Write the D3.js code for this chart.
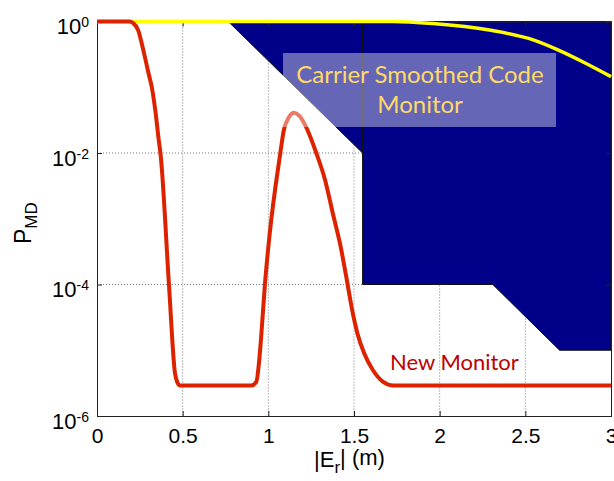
<!DOCTYPE html>
<html>
<head>
<meta charset="utf-8">
<script src="https://cdn.jsdelivr.net/npm/d3@7"></script>
<style>
  body { margin: 0; background: #fff; }
  svg { display: block; }
  .tick text { font-family: "Liberation Sans", Arial, sans-serif; fill: #000; }
</style>
</head>
<body>
<div id="chart"></div>
<script>
// Chart data
var xTicks = [0, 0.5, 1, 1.5, 2, 2.5, 3];
var yTicks = [1, 1e-2, 1e-4, 1e-6];
var yTickExp = ["0", "-2", "-4", "-6"];

// New Monitor curve (|Er| in m, PMD)
var newX = [0, 0.19, 0.21, 0.24, 0.27, 0.30, 0.32, 0.34, 0.36, 0.372, 0.42, 0.455, 0.47, 0.485,
  0.9, 0.93, 0.945, 0.957, 0.98, 1.005, 1.07, 1.09, 1.12, 1.15, 1.18, 1.22, 1.28,
  1.33, 1.38, 1.42, 1.46, 1.49, 1.52, 1.56, 1.61, 1.67, 1.73, 3.0];
var newP = [1, 1, 0.95, 0.74, 0.37, 0.166, 0.1, 0.045, 0.016, 0.009, 1e-4, 4.5e-6, 3.2e-6, 2.9e-6,
  2.9e-6, 3.3e-6, 6.3e-6, 1.45e-5, 1e-4, 5e-4, 0.01, 0.022, 0.035, 0.041, 0.037, 0.025, 0.01,
  4e-3, 1.1e-3, 4e-4, 1.1e-4, 4e-5, 1.8e-5, 8.9e-6, 5e-6, 3.3e-6, 2.9e-6, 2.9e-6];

// Carrier smoothed code monitor curve
var cscX = [0, 1.73, 1.96, 2.29, 2.55, 2.69, 2.84, 3.0];
var cscP = [1, 1, 0.93, 0.74, 0.52, 0.37, 0.24, 0.145];

// Shaded region corners
var regionTriX = [0.766, 1.55, 1.55];
var regionTriP = [1, 0.01, 1];
var regionX = [1.55, 1.55, 2.31, 2.70, 3, 3];
var regionP = [1, 1e-4, 1e-4, 1e-5, 1e-5, 1];

var svgWidth = 614;
var svgHeight = 481;
var margin = { top: 21.5, right: 3, bottom: 65, left: 97 };
var width = svgWidth - margin.left - margin.right;
var height = svgHeight - margin.top - margin.bottom;

var svg = d3.select("#chart")
  .append("svg")
  .attr("width", svgWidth)
  .attr("height", svgHeight);

var chartGroup = svg.append("g")
  .attr("transform", `translate(${margin.left}, ${margin.top})`);

var x = d3.scaleLinear().domain([0, 3]).range([0, width]);
var y = d3.scaleLog().domain([1e-6, 1]).range([height, 0]);

// grid lines (dotted)
chartGroup.selectAll(".vgrid")
  .data(xTicks.slice(1, -1))
  .enter()
  .append("line")
  .attr("x1", d => x(d)).attr("x2", d => x(d))
  .attr("y1", 0).attr("y2", height)
  .attr("stroke", "#777")
  .attr("stroke-width", 1)
  .attr("stroke-dasharray", "1,2");

chartGroup.selectAll(".hgrid")
  .data(yTicks.slice(1, -1))
  .enter()
  .append("line")
  .attr("x1", 0).attr("x2", width)
  .attr("y1", d => y(d)).attr("y2", d => y(d))
  .attr("stroke", "#777")
  .attr("stroke-width", 1)
  .attr("stroke-dasharray", "1,2");

// shaded region
var poly = d3.line().x(d => x(d[0])).y(d => y(d[1]));
chartGroup.append("path")
  .attr("d", poly(d3.zip(regionTriX, regionTriP)) + "Z")
  .attr("fill", "#000088")
  .attr("stroke", "#111")
  .attr("stroke-width", 1);
chartGroup.append("path")
  .attr("d", poly(d3.zip(regionX, regionP)) + "Z")
  .attr("fill", "#000088")
  .attr("stroke", "#111")
  .attr("stroke-width", 1);

// axes
var bottomAxis = d3.axisBottom(x).tickValues(xTicks).tickSize(-5).tickPadding(12)
  .tickFormat(d3.format(""));
var leftAxis = d3.axisLeft(y).tickValues(yTicks).tickSize(-5).tickPadding(8);
var rightAxis = d3.axisRight(y).tickValues(yTicks).tickSize(-5).tickFormat("");
var topAxis = d3.axisTop(x).tickValues(xTicks).tickSize(-5).tickFormat("");

chartGroup.append("g").call(topAxis);
chartGroup.append("g").attr("transform", `translate(${width}, 0)`).call(rightAxis);

var xg = chartGroup.append("g").attr("transform", `translate(0, ${height})`).call(bottomAxis);
var yg = chartGroup.append("g").call(leftAxis);

svg.selectAll(".domain").attr("stroke", "#222");
svg.selectAll(".tick line").attr("stroke", "#222");
xg.selectAll("text").style("font-size", "21px");
yg.selectAll("text")
  .style("font-size", "22px")
  .text(null)
  .each(function(d, i) {
    var t = d3.select(this);
    t.append("tspan").text("10");
    t.append("tspan").attr("dy", "-0.5em").style("font-size", "14px").text(yTickExp[i]);
  })
  .attr("dy", "0.55em");

// curves
var curve = d3.line().x(d => x(d[0])).y(d => y(d[1])).curve(d3.curveMonotoneX);

chartGroup.append("path")
  .attr("d", curve(d3.zip(cscX, cscP)))
  .attr("fill", "none")
  .attr("stroke", "#ffff00")
  .attr("stroke-width", 3.5);

chartGroup.append("path")
  .attr("d", curve(d3.zip(newX, newP)))
  .attr("fill", "none")
  .attr("stroke", "#dd2200")
  .attr("stroke-width", 4)
  .attr("stroke-linejoin", "round");

// translucent label box
svg.append("rect")
  .attr("x", 283).attr("y", 53)
  .attr("width", 273).attr("height", 74)
  .attr("fill", "#fff")
  .attr("opacity", 0.4);

svg.append("text")
  .attr("x", 420).attr("y", 83)
  .attr("text-anchor", "middle")
  .style("font-family", "Lato, sans-serif")
  .style("font-size", "24px")
  .style("fill", "#ffd966")
  .text("Carrier Smoothed Code");
svg.append("text")
  .attr("x", 420).attr("y", 113)
  .attr("text-anchor", "middle")
  .style("font-family", "Lato, sans-serif")
  .style("font-size", "24px")
  .style("fill", "#ffd966")
  .text("Monitor");

svg.append("text")
  .attr("x", 390).attr("y", 370)
  .style("font-family", "Lato, sans-serif")
  .style("font-size", "22px")
  .style("fill", "#c00000")
  .text("New Monitor");

// axis labels
var xl = svg.append("text")
  .attr("x", 314).attr("y", 467)
  .style("font-family", "Liberation Sans, Arial, sans-serif")
  .style("font-size", "22px");
xl.append("tspan").text("|E");
xl.append("tspan").attr("dy", "0.35em").style("font-size", "17px").text("r");
xl.append("tspan").attr("dy", "-0.35em").text("| (m)");

var yl = svg.append("text")
  .attr("transform", "translate(31, 244) rotate(-90)")
  .style("font-family", "Liberation Sans, Arial, sans-serif")
  .style("font-size", "23px");
yl.append("tspan").text("P");
yl.append("tspan").attr("dy", "0.35em").style("font-size", "17px").text("MD");
</script>
</body>
</html>
